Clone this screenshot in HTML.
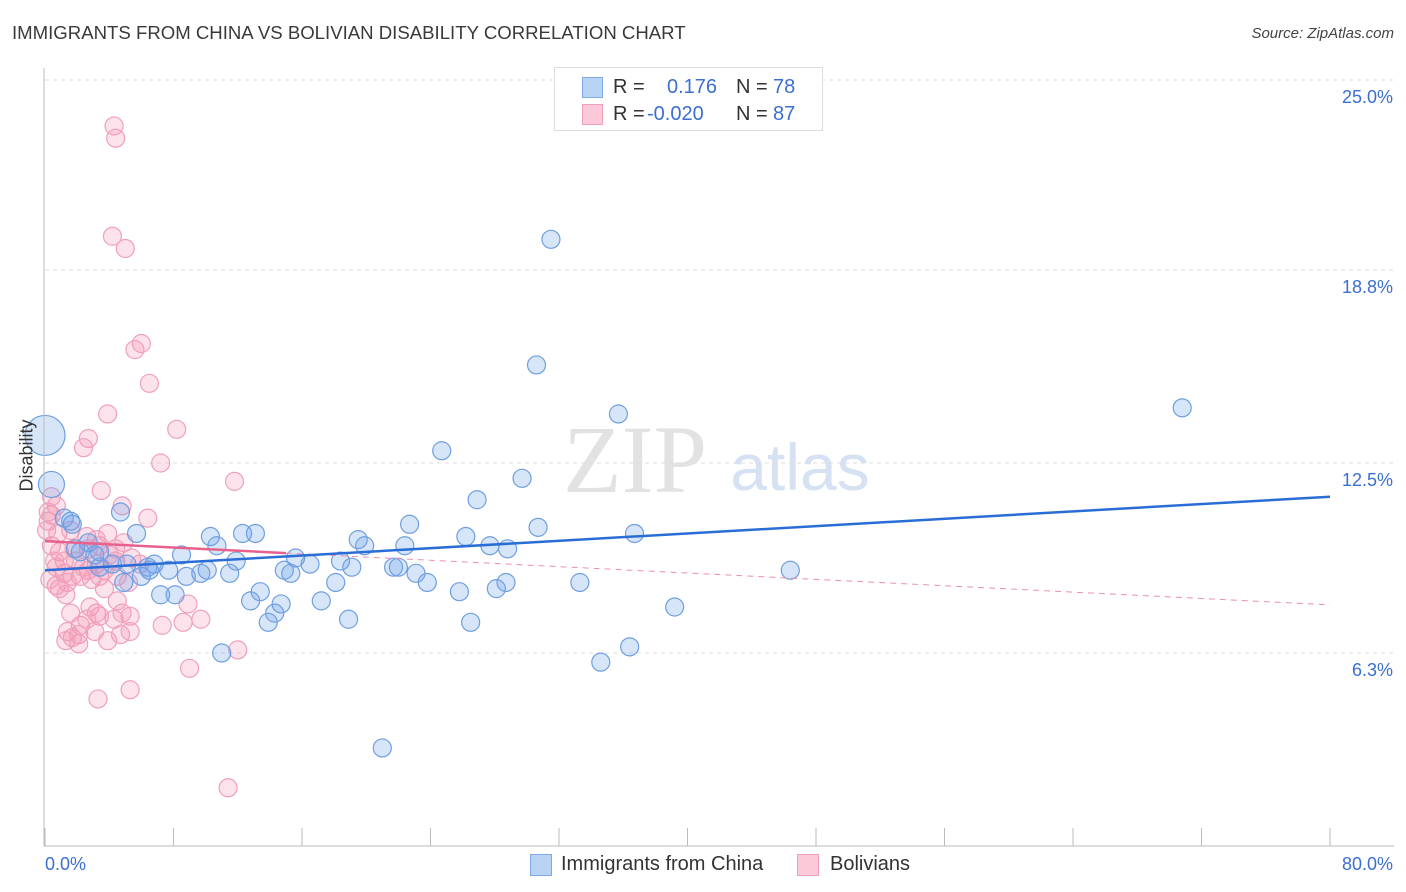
<!DOCTYPE html>
<html><head><meta charset="utf-8"><style>
body{margin:0;background:#fff;font-family:"Liberation Sans",sans-serif;}
#wrap{position:relative;width:1406px;height:892px;overflow:hidden;}
.t{position:absolute;white-space:nowrap;}
</style></head><body>
<div id="wrap">
<div class="t" style="left:12px;top:22px;font-size:18.6px;color:#3a3a3a;">IMMIGRANTS FROM CHINA VS BOLIVIAN DISABILITY CORRELATION CHART</div>
<div class="t" style="right:12px;top:25px;font-size:15px;color:#444;font-style:italic;">Source: ZipAtlas.com</div>
<svg id="plot" width="1406" height="892" style="position:absolute;left:0;top:0">
<text x="635" y="492" font-family="Liberation Serif,serif" font-size="96" fill="#e2e2e2" text-anchor="middle">ZIP</text>
<text x="800" y="490" font-family="Liberation Sans,sans-serif" font-size="66" fill="#d6e2f3" text-anchor="middle">atlas</text>
<g id="grid"></g><g id="pts"></g><g id="trend"></g><g id="axes"></g>
</svg>
<div style="position:absolute;left:554px;top:67px;width:267px;height:62px;border:1px solid #ddd;background:#fff;font-size:20px;color:#333;">
<div style="position:absolute;left:27px;top:9px;width:19px;height:19px;background:#b9d3f5;border:1px solid #7ea9e6;"></div>
<div class="t" style="left:58px;top:8px;">R = </div><div class="t" style="left:112px;top:8px;color:#3b6fd0;">0.176</div>
<div class="t" style="left:181px;top:8px;">N = </div><div class="t" style="left:218px;top:8px;color:#3b6fd0;">78</div>
<div style="position:absolute;left:27px;top:36px;width:19px;height:19px;background:#fbc9d8;border:1px solid #f0a0bb;"></div>
<div class="t" style="left:58px;top:35px;">R = </div><div class="t" style="left:92px;top:35px;color:#3b6fd0;">-0.020</div>
<div class="t" style="left:181px;top:35px;">N = </div><div class="t" style="left:218px;top:35px;color:#3b6fd0;">87</div>
</div>
<div>
<div style="position:absolute;left:530px;top:854px;width:20px;height:20px;background:#b9d3f5;border:1px solid #7ea9e6;"></div>
<div class="t" style="left:561px;top:853px;font-size:20px;color:#333;">Immigrants from China</div>
<div style="position:absolute;left:797px;top:854px;width:20px;height:20px;background:#fbc9d8;border:1px solid #f0a0bb;"></div>
<div class="t" style="left:830px;top:853px;font-size:20px;color:#333;">Bolivians</div>
</div>
<div class="t" style="left:-9px;top:445px;font-size:18px;color:#333;transform:rotate(-90deg);">Disability</div>
</div>
<script>
const chinaX=[31.5,30.6,70.8,35.7,24.7,29.7,26.9,0.4,0.0,1.2,1.7,4.7,5.7,22.7,30.7,36.7,26.2,12.3,13.1,10.3,19.5,19.9,22.4,27.7,28.8,8.5,10.7,11.9,15.6,16.5,14.9,18.4,19.1,21.7,22.0,23.1,23.8,28.7,33.3,46.4,2.2,3.1,3.4,4.2,5.1,6.8,7.7,8.8,9.7,10.1,11.5,18.1,4.9,6.0,6.4,7.2,8.1,13.4,14.7,12.8,17.2,25.8,28.1,13.9,14.3,18.9,26.5,39.2,36.4,34.6,11.0,21.0,2.7,1.9,3.4,6.5,1.6,15.3];
const chinaY=[19.8,15.7,14.3,14.1,12.9,12.0,11.3,11.8,13.4,10.7,10.5,10.9,10.2,10.5,10.4,10.2,10.1,10.2,10.2,10.1,10.0,9.8,9.8,9.8,9.7,9.5,9.8,9.3,9.4,9.2,9.0,9.3,9.1,9.1,9.1,8.9,8.6,8.6,8.6,9.0,9.6,9.5,9.1,9.2,9.2,9.2,9.0,8.8,8.9,9.0,8.9,8.6,8.6,8.8,9.1,8.2,8.2,8.3,7.9,8.0,8.0,8.3,8.4,7.3,7.6,7.4,7.3,7.8,6.5,6.0,6.3,3.2,9.9,9.7,9.6,9.0,10.6,8.9];
const chinaR=[9,9,9,9,9,9,9,13,20,9,9,9,9,9,9,9,9,9,9,9,9,9,9,9,9,9,9,9,9,9,9,9,9,9,9,9,9,9,9,9,9,9,9,9,9,9,9,9,9,9,9,9,9,9,9,9,9,9,9,9,9,9,9,9,9,9,9,9,9,9,9,9,9,9,9,9,9,9];
const bolX=[4.3,4.4,4.2,5.0,6.0,5.6,6.5,3.9,8.2,2.7,7.2,2.4,11.8,3.5,0.4,0.7,0.2,4.8,6.4,0.8,3.9,1.6,2.6,3.2,0.4,0.9,1.8,2.7,3.4,4.4,5.4,0.7,1.2,1.7,2.2,2.7,3.2,3.7,1.4,0.7,0.9,4.5,5.2,2.8,4.5,3.4,4.3,5.3,8.9,9.7,8.6,7.3,1.4,2.2,1.7,1.3,2.1,3.9,4.7,5.3,9.0,3.3,5.3,11.4,12.0,0.2,0.4,1.2,1.9,2.4,4.4,0.1,0.3,1.3,2.9,3.4,5.9,4.0,4.9,2.1,3.1,4.8,3.2,1.6,0.6,2.6,3.7];
const bolY=[23.5,23.1,19.9,19.5,16.4,16.2,15.1,14.1,13.6,13.3,12.5,13.0,11.9,11.6,11.4,11.1,10.6,11.1,10.7,10.2,10.2,10.3,10.1,10.0,9.8,9.6,9.7,9.7,9.8,9.7,9.4,9.1,8.9,8.8,8.8,9.0,9.2,9.0,8.6,8.5,8.4,8.8,8.6,7.8,8.0,7.5,7.4,7.5,7.9,7.4,7.3,7.2,7.0,7.2,6.8,6.7,6.9,6.7,6.9,7.0,5.8,4.8,5.1,1.9,6.4,10.9,10.8,9.3,9.3,9.1,9.3,10.3,8.7,8.2,8.7,8.8,9.2,9.5,9.9,6.6,7.0,7.6,7.6,7.6,9.3,7.4,8.4];
const chinaTrend=[9.0,11.4];
const bolTrend=[9.95,7.87];
const bolSolidEnd=15;
const yTicks=[6.3,12.5,18.8,25.0];
const yTickLabels=["6.3%","12.5%","18.8%","25.0%"];
const xTicks=[0,8,16,24,32,40,48,56,64,72,80];
const xEndLabels=["0.0%","80.0%"];

const X0=45,X1=1330,YB=846,PXU=30.64;
const sx=v=>X0+(X1-X0)*v/80;
const sy=v=>YB-v*PXU;
const NS="http://www.w3.org/2000/svg";
function mk(tag,attrs,parent){const e=document.createElementNS(NS,tag);for(const k in attrs)e.setAttribute(k,attrs[k]);parent.appendChild(e);return e;}
const grid=document.getElementById('grid'),pts=document.getElementById('pts'),tr=document.getElementById('trend'),ax=document.getElementById('axes');
yTicks.forEach((t,i)=>{
  const y=sy(t);
  const l=mk('line',{x1:X0,x2:1394,y1:y,y2:y,stroke:'#ddd','stroke-dasharray':'4,4'},grid);
  
  
  const tx=mk('text',{x:1393,y:y+23,'text-anchor':'end','font-size':18,fill:'#3b6fd0','font-family':'Liberation Sans,sans-serif'},ax);
  tx.textContent=yTickLabels[i];
  
  
});
const yaxis=mk('line',{x1:44,x2:44,y1:68,y2:846,stroke:'#bbb'},ax);


const xaxis=mk('line',{x1:44,x2:1394,y1:846,y2:846,stroke:'#bbb'},ax);


xTicks.forEach(t=>{
  const tk=mk('line',{x1:sx(t),x2:sx(t),y1:828,y2:846,stroke:'#bbb'},ax);
  
  
});
const xl0=mk('text',{x:45,y:870,'font-size':18,fill:'#3b6fd0','font-family':'Liberation Sans,sans-serif'},ax);
xl0.textContent=xEndLabels[0];


const xl1=mk('text',{x:1393,y:870,'text-anchor':'end','font-size':18,fill:'#3b6fd0','font-family':'Liberation Sans,sans-serif'},ax);
xl1.textContent=xEndLabels[1];


bolX.forEach((x,i)=>{
  const c=mk('circle',{cx:sx(x),cy:sy(bolY[i]),r:9,fill:'rgba(244,150,180,0.28)',stroke:'#f0a0bb','stroke-width':1.2},pts);
  
  
});
chinaX.forEach((x,i)=>{
  const c=mk('circle',{cx:sx(x),cy:sy(chinaY[i]),r:chinaR[i],fill:'rgba(110,160,235,0.28)',stroke:'#6f9fe0','stroke-width':1.2},pts);
  
  
});
const by=x=>bolTrend[0]+(bolTrend[1]-bolTrend[0])*x/80;
const bd=mk('line',{x1:sx(bolSolidEnd),y1:sy(by(bolSolidEnd)),x2:sx(80),y2:sy(by(80)),stroke:'#ec8fae','stroke-width':1,'stroke-dasharray':'6,5'},tr);


const bs=mk('line',{x1:sx(0),y1:sy(by(0)),x2:sx(bolSolidEnd),y2:sy(by(bolSolidEnd)),stroke:'#e8608c','stroke-width':2.5},tr);


const cl=mk('line',{x1:sx(0),y1:sy(chinaTrend[0]),x2:sx(80),y2:sy(chinaTrend[1]),stroke:'#2a6dd6','stroke-width':2.5},tr);


</script>
</body></html>
